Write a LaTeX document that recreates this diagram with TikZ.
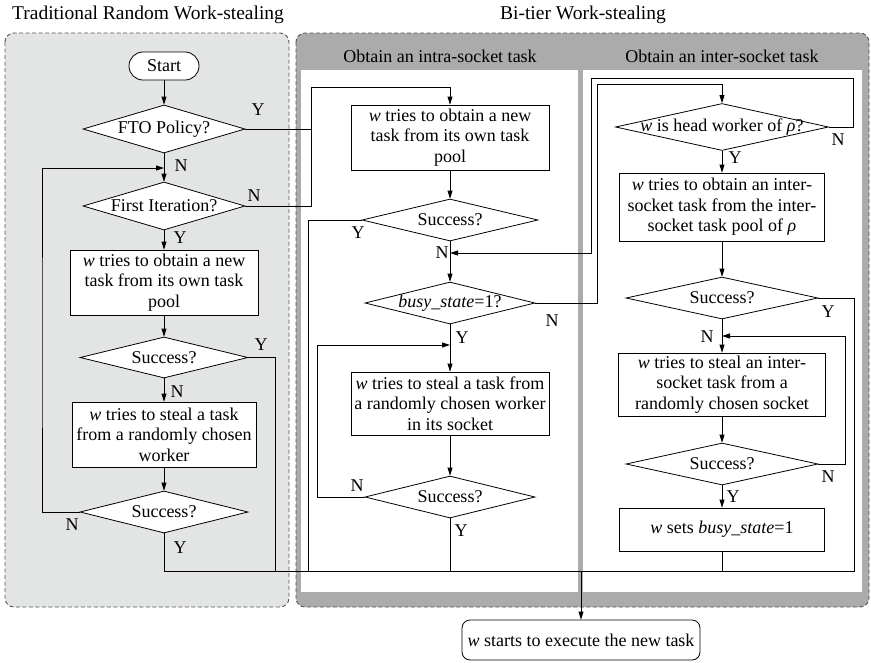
\documentclass[tikz,border=0pt]{standalone}
\usepackage{fontspec}
\setmainfont{Liberation Serif}
\usetikzlibrary{shapes.geometric,arrows.meta}
\definecolor{panelA}{HTML}{E3E4E4}
\definecolor{panelB}{HTML}{ABABAB}
\definecolor{rim}{HTML}{555555}
\begin{document}
\begin{tikzpicture}[x=1pt,y=-1pt,
  every node/.style={font=\rmfamily\fontsize{18}{20.5}\selectfont},
  title/.style={inner sep=0pt, font=\rmfamily\fontsize{19.5}{22}\selectfont},
  head/.style={inner sep=0pt, font=\rmfamily\fontsize{18}{21}\selectfont},
  lbl/.style={inner sep=0pt},
  box/.style={draw, fill=white, line width=0.8pt, align=center, inner sep=1pt},
  term/.style={box, rounded corners=#1},
  dec/.style={diamond, draw, fill=white, line width=0.8pt, inner sep=0pt},
  dtext/.style={inner sep=0pt},
  conn/.style={line width=0.8pt},
  arr/.style={conn, -{Triangle[length=8pt,width=5pt]}},
  group/.style={rounded corners=9pt, dash pattern=on 4pt off 2.5pt, draw=rim, line width=0.9pt},
]
\useasboundingbox (0,0) rectangle (871,662);

% ---- group frames ----
\path[group, fill=panelA] (5,33) rectangle (289,607);
\path[group, fill=panelB] (296,33) rectangle (869,607);
\fill[white] (301,70) rectangle (578,592);
\fill[white] (583,70) rectangle (862,592);

\node[title] (t1) at (148,15) {Traditional Random Work-stealing};
\node[title] (t2) at (583,15) {Bi-tier Work-stealing};
\node[head] (h1) at (440,56) {Obtain an intra-socket task};
\node[head] (h2) at (722,56) {Obtain an inter-socket task};

% ---- traditional random work-stealing ----
\node[term=14pt, minimum width=70pt, minimum height=28pt] (start) at (164,66) {Start};
\node[dec, minimum width=162pt, minimum height=48pt] (fto) at (164,129) {};
\node[dtext] (ftot) at (fto) {FTO Policy?};
\node[dec, minimum width=162pt, minimum height=48pt] (fi) at (164,206) {};
\node[dtext] (fit) at (fi) {First Iteration?};
\node[box, minimum width=188pt, minimum height=65pt] (lb1) at (164,282.5)
  {\textit{w} tries to obtain a new\\task from its own task\\pool};
\node[dec, minimum width=168pt, minimum height=41pt] (ls1) at (164,357.5) {};
\node[dtext] (ls1t) at (ls1) {Success?};
\node[box, minimum width=184pt, minimum height=65pt] (lb2) at (164,434.5)
  {\textit{w} tries to steal a task\\from a randomly chosen\\worker};
\node[dec, minimum width=168pt, minimum height=42pt] (ls2) at (164,512) {};
\node[dtext] (ls2t) at (ls2) {Success?};

% ---- intra-socket tier ----
\node[box, minimum width=198pt, minimum height=65pt] (ib1) at (450,137.5)
  {\textit{w} tries to obtain a new\\task from its own task\\pool};
\node[dec, minimum width=176pt, minimum height=42pt] (is1) at (450,220) {};
\node[dtext] (is1t) at (is1) {Success?};
\node[dec, minimum width=170pt, minimum height=42pt] (busy) at (450,303) {};
\node[dtext] (busyt) at (busy) {\textit{busy\_state}=1?};
\node[box, minimum width=198pt, minimum height=63pt] (ib2) at (450,403.5)
  {\textit{w} tries to steal a task from\\a randomly chosen worker\\in its socket};
\node[dec, minimum width=170pt, minimum height=42pt] (is2) at (450,497) {};
\node[dtext] (is2t) at (is2) {Success?};

% ---- inter-socket tier ----
\node[dec, minimum width=213pt, minimum height=47pt] (xh) at (722,127) {};
\node[dtext] (xht) at (xh) {\textit{w} is head worker of \textit{ρ}?};
\node[box, minimum width=205pt, minimum height=68pt] (xb1) at (722,207)
  {\textit{w} tries to obtain an inter-\\socket task from the inter-\\socket task pool of \textit{ρ}};
\node[dec, minimum width=192pt, minimum height=42pt] (xs1) at (722,298) {};
\node[dtext] (xs1t) at (xs1) {Success?};
\node[box, minimum width=207pt, minimum height=63pt] (xb2) at (722,384.5)
  {\textit{w} tries to steal an inter-\\socket task from a\\randomly chosen socket};
\node[dec, minimum width=192pt, minimum height=42pt] (xs2) at (722,464) {};
\node[dtext] (xs2t) at (xs2) {Success?};
\node[box, minimum width=205pt, minimum height=43pt] (xb3) at (722,529.5)
  {\textit{w} sets \textit{busy\_state}=1};

% ---- final step ----
\node[term=8pt, minimum width=238pt, minimum height=40pt] (fin) at (581,640)
  {\textit{w} starts to execute the new task};

% ---- junctions ----
\coordinate (jl) at (164,168);
\coordinate (ij) at (450,253);
\coordinate (ik) at (450,345);
\coordinate (xk) at (722,336);
\coordinate (bus) at (581,571);

% ---- connectors: traditional ----
\draw[arr] (start) -- (fto);
\draw[arr] (fto) -- (fi);
\draw[arr] (ls2.west) -| (42,345) |- (jl);
\draw[arr] (fi) -- (lb1);
\draw[arr] (lb1) -- (ls1);
\draw[arr] (ls1) -- (lb2);
\draw[arr] (lb2) -- (ls2);
\draw[conn] (ls1.east) -| (275,571);
\draw[conn] (ls2.south) |- (bus);
\draw[arr] (fto.east) -| (311,87) -| (ib1.north);
\draw[conn] (fi.east) -| (311,129);

% ---- connectors: intra-socket ----
\draw[arr] (ib1) -- (is1);
\draw[arr] (is1) -- (busy);
\draw[conn] (is1.west) -| (308,571);
\draw[arr] (busy.east) -| (597,84) -| (xh.north);
\draw[arr] (busy) -- (ib2);
\draw[arr] (is2.west) -| (317,345) -- (ik);
\draw[arr] (ib2) -- (is2);
\draw[conn] (is2.south) -- (is2.south |- bus);

% ---- connectors: inter-socket ----
\draw[arr] (xh.east) -| (853,78) -| (591,253) -- (ij);
\draw[arr] (xh) -- (xb1);
\draw[arr] (xb1) -- (xs1);
\draw[conn] (xs1.east) -| (854,571) -- (bus);
\draw[arr] (xs1) -- (xb2);
\draw[arr] (xb2) -- (xs2);
\draw[arr] (xs2.east) -| (845,336) -- (xk);
\draw[arr] (xs2) -- (xb3);
\draw[conn] (xb3.south) -- (xb3.south |- bus);
\draw[arr] (bus) -- (fin);

% ---- branch labels ----
\node[lbl] (y1) at (258,110) {Y};
\node[lbl] (n1) at (181,166) {N};
\node[lbl] (n2) at (254,196) {N};
\node[lbl] (y2) at (180,238) {Y};
\node[lbl] (y3) at (261,345) {Y};
\node[lbl] (n3) at (177,392) {N};
\node[lbl] (n4) at (72,525) {N};
\node[lbl] (y4) at (180,548) {Y};

\node[lbl] (y5) at (358,233) {Y};
\node[lbl] (n5) at (442,253) {N};
\node[lbl] (n6) at (552,321) {N};
\node[lbl] (y6) at (462,338) {Y};
\node[lbl] (n7) at (357,486) {N};
\node[lbl] (y7) at (461,531) {Y};

\node[lbl] (n8) at (838,140) {N};
\node[lbl] (y8) at (735,158) {Y};
\node[lbl] (y9) at (828,312) {Y};
\node[lbl] (n9) at (707,337) {N};
\node[lbl] (n10) at (828,477) {N};
\node[lbl] (y10) at (733,497) {Y};
\end{tikzpicture}
\end{document}
